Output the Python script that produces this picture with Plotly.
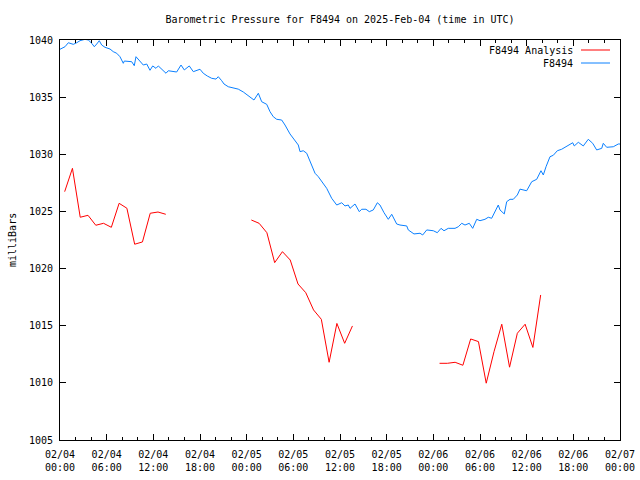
import pandas as pd
import plotly.graph_objects as go

BASE = "2025-02-04 00:00"

# Station F8494 observations: hours after BASE, pressure (mb)
obs_hours = [0, 0.64, 1.07, 1.50, 1.71, 2.15, 2.57, 3.21, 3.64, 4.08, 4.41, 4.72, 5.05, 5.36, 5.79,
             6.43, 6.85, 7.29, 7.71, 8.14, 8.27, 9.22, 9.55, 9.77, 10.29, 10.71, 11.15, 11.57, 11.92,
             12.34, 12.64, 13.08, 13.63, 13.92, 15.00, 15.56, 15.98, 16.62, 17.14, 18.00, 18.42, 18.94,
             19.50, 20.06, 20.35, 20.79, 21.09, 21.64, 22.28, 22.92, 23.57, 24.21, 24.43, 24.94, 25.50,
             25.93, 26.58, 27.00, 27.42, 27.86, 28.50, 28.93, 29.57, 30.21, 30.64, 30.86, 31.28, 31.72,
             32.36, 32.79, 33.21, 33.65, 34.29, 34.93, 35.58, 36.22, 36.64, 37.07, 37.29, 37.93, 38.48,
             38.79, 39.34, 39.77, 40.28, 40.80, 41.14, 41.66, 42.21, 42.65, 43.29, 43.71, 44.58, 44.78,
             45.51, 46.29, 46.63, 47.15, 48.00, 48.51, 48.99, 49.37, 49.92, 50.79, 51.21, 51.65, 52.07,
             52.62, 53.06, 53.58, 54.00, 54.64, 55.07, 55.50, 55.93, 56.35, 56.57, 57.12, 57.43, 57.86,
             58.28, 58.80, 59.14, 60.00, 60.65, 61.29, 61.84, 62.14, 62.49, 63.00, 63.42, 63.94, 64.50,
             64.93, 65.35, 65.92, 66.12, 66.64, 67.28, 67.92, 68.49, 69.00, 69.65, 69.85, 70.29, 71.14,
             71.78, 72.0]
obs_mb = [1039.19, 1039.41, 1039.76, 1039.71, 1039.62, 1039.76, 1039.94, 1040.06, 1040.0, 1039.71,
          1039.41, 1039.65, 1039.94, 1039.56, 1039.36, 1039.21, 1038.98, 1038.84, 1038.54, 1037.96,
          1038.16, 1038.10, 1037.75, 1038.54, 1038.10, 1037.81, 1037.90, 1037.35, 1037.73, 1037.52,
          1037.73, 1037.44, 1037.09, 1037.31, 1037.20, 1037.81, 1037.38, 1037.73, 1037.23, 1037.44,
          1037.09, 1036.85, 1036.65, 1036.58, 1036.79, 1036.44, 1036.15, 1035.91, 1035.80, 1035.70,
          1035.45, 1035.10, 1035.04, 1034.75, 1035.34, 1034.60, 1034.37, 1033.73, 1033.29, 1033.06,
          1033.00, 1032.56, 1031.78, 1031.25, 1030.81, 1030.23, 1030.31, 1030.09, 1028.98, 1028.34,
          1028.04, 1027.60, 1027.02, 1026.15, 1025.56, 1025.76, 1025.48, 1025.56, 1025.27, 1025.65,
          1024.98, 1025.19, 1025.19, 1024.98, 1025.13, 1025.76, 1025.56, 1024.89, 1024.31, 1024.75,
          1023.90, 1023.81, 1023.73, 1023.38, 1023.03, 1023.09, 1022.94, 1023.38, 1023.31, 1023.14,
          1023.52, 1023.31, 1023.52, 1023.52, 1023.66, 1023.96, 1023.81, 1023.96, 1023.52, 1024.31,
          1024.19, 1024.31, 1024.49, 1024.40, 1024.98, 1025.56, 1025.13, 1024.78, 1025.85, 1026.06,
          1026.06, 1026.44, 1026.95, 1026.81, 1027.60, 1027.81, 1028.56, 1028.19, 1028.91, 1029.79,
          1029.91, 1030.31, 1030.44, 1030.61, 1030.81, 1031.01, 1030.73, 1031.05, 1030.73, 1031.31,
          1030.96, 1030.38, 1030.52, 1030.96, 1030.61, 1030.66, 1030.90, 1030.90]

# Analysis series (three segments with gaps)
ana_hours_1 = [0.6, 1.6, 2.6, 3.6, 4.6, 5.6, 6.6, 7.6, 8.6, 9.6, 10.6, 11.6, 12.6, 13.6]
ana_mb_1 = [1026.73, 1028.77, 1024.49, 1024.66, 1023.79, 1023.96, 1023.61, 1025.71, 1025.28,
            1022.13, 1022.33, 1024.84, 1024.95, 1024.75]
ana_hours_2 = [24.6, 25.6, 26.6, 27.6, 28.6, 29.6, 30.6, 31.6, 32.6, 33.6, 34.6, 35.6, 36.6, 37.6]
ana_mb_2 = [1024.25, 1023.96, 1023.14, 1020.52, 1021.48, 1020.75, 1018.65, 1017.89, 1016.38,
            1015.56, 1011.80, 1015.20, 1013.46, 1014.98]
ana_hours_3 = [48.8, 49.8, 50.8, 51.8, 52.8, 53.8, 54.8, 55.8, 56.8, 57.8, 58.8, 59.8, 60.8, 61.8]
ana_mb_3 = [1011.71, 1011.71, 1011.80, 1011.54, 1013.84, 1013.61, 1009.97, 1012.73, 1015.13,
            1011.37, 1014.34, 1015.13, 1013.10, 1017.69]

TITLE = "Barometric Pressure for F8494 on 2025-Feb-04 (time in UTC)"
Y_TITLE = "milliBars"
NAME_ANA = "F8494 Analysis"
NAME_OBS = "F8494"
RED = "#ff0000"
BLUE = "#0a80ff"
FONT = "DejaVu Sans Mono"

base = pd.Timestamp(BASE)


def to_time(hours):
    return [None if h is None else base + pd.to_timedelta(h, unit="h") for h in hours]


ana_hours = ana_hours_1 + [None] + ana_hours_2 + [None] + ana_hours_3
ana_mb = ana_mb_1 + [None] + ana_mb_2 + [None] + ana_mb_3

fig = go.Figure()
fig.add_trace(go.Scatter(x=to_time(ana_hours), y=ana_mb, mode="lines", name=NAME_ANA,
                         line=dict(color=RED, width=1), connectgaps=False))
fig.add_trace(go.Scatter(x=to_time(obs_hours), y=obs_mb, mode="lines", name=NAME_OBS,
                         line=dict(color=BLUE, width=1)))

two_hours = 2 * 3600 * 1000
six_hours = 6 * 3600 * 1000

fig.update_layout(
    width=640, height=480,
    margin=dict(l=60, r=20, t=40, b=40, autoexpand=False),
    paper_bgcolor="white", plot_bgcolor="white",
    showlegend=False,
    font=dict(family=FONT, size=10, color="black"),
    title=dict(text=TITLE, x=(60 + 280) / 640, xanchor="center", y=1 - 19 / 480, yanchor="middle",
               font=dict(family=FONT, size=10, color="black")),
    xaxis=dict(
        range=[base, base + pd.Timedelta(hours=72)],
        tickmode="linear", tick0=base, dtick=six_hours,
        tickformat="%m/%d<br>%H:%M",
        ticks="inside", ticklen=6, tickcolor="black", tickwidth=1,
        showline=True, linecolor="black", linewidth=1, mirror="ticks",
        showgrid=False, zeroline=False, automargin=False,
        ticklabelstandoff=5,
        minor=dict(dtick=two_hours, tick0=base, ticks="inside", ticklen=3, tickcolor="black", showgrid=False),
        tickfont=dict(family=FONT, size=10, color="black"),
    ),
    yaxis=dict(
        range=[1005, 1040], tickmode="linear", tick0=1005, dtick=5,
        ticks="inside", ticklen=6, tickcolor="black", tickwidth=1,
        showline=True, linecolor="black", linewidth=1, mirror="ticks",
        showgrid=False, zeroline=False, automargin=False,
        ticklabelstandoff=4,
        tickfont=dict(family=FONT, size=10, color="black"),
    ),
)

fig.add_annotation(text=Y_TITLE, xref="paper", yref="paper", x=(12 - 60) / 560, y=(440 - 240) / 400,
                   xanchor="center", yanchor="middle", textangle=-90, showarrow=False,
                   font=dict(family=FONT, size=10, color="black"))

# gnuplot-style legend: text right-aligned, line sample on the right
legend_rows = [(NAME_ANA, RED, 1 - (50 - 40) / 400), (NAME_OBS, BLUE, 1 - (63 - 40) / 400)]
for label, color, ypos in legend_rows:
    fig.add_annotation(text=label, xref="paper", yref="paper", x=(575 - 60) / 560, y=ypos,
                       xanchor="right", yanchor="middle", showarrow=False,
                       font=dict(family=FONT, size=10, color="black"))
    fig.add_shape(type="line", xref="paper", yref="paper",
                  x0=(581 - 60) / 560, x1=(610 - 60) / 560, y0=ypos, y1=ypos,
                  line=dict(color=color, width=1))

fig.write_html("out.html")
